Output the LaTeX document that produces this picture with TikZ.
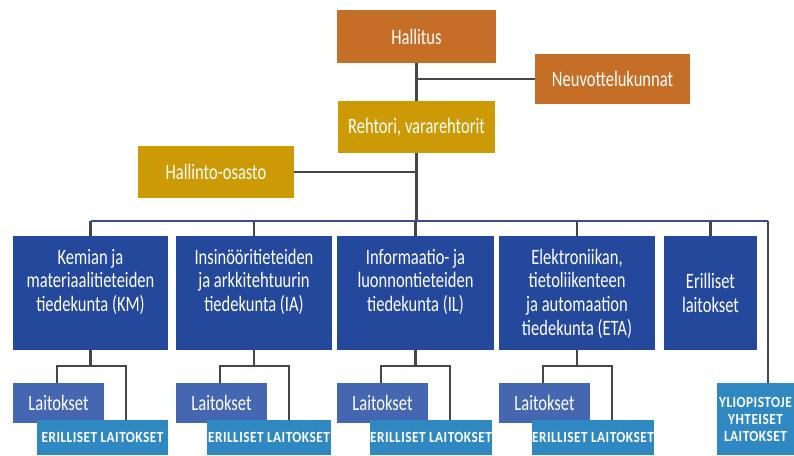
\documentclass[tikz,border=0pt]{standalone}
\usepackage{fontspec}
\setmainfont{Carlito}[FakeStretch=0.75]
\newfontfamily\capsfont{Carlito}[FakeStretch=0.86, LetterSpace=3]
\usetikzlibrary{calc}
\definecolor{orangebox}{HTML}{C46E27}
\definecolor{goldbox}{HTML}{CC9A04}
\definecolor{facblue}{HTML}{24489B}
\definecolor{depblue}{HTML}{4566B0}
\definecolor{sepblue}{HTML}{2F88C1}
\definecolor{linecol}{HTML}{45454D}
\definecolor{buscol}{HTML}{3D4E86}
\begin{document}
\begin{tikzpicture}[x=1pt,y=-1pt,
  box/.style={draw=none, inner sep=0pt, outer sep=0pt, text=white, align=center,
    font=\fontsize{22}{23.7}\selectfont},
  topbox/.style={box, fill=orangebox},
  goldb/.style={box, fill=goldbox},
  facbox/.style={box, fill=facblue, minimum height=114pt},
  factext/.style={box, fill=none, anchor=north},
  depbox/.style={box, fill=depblue, minimum width=91pt, minimum height=40pt},
  sepbox/.style={box, fill=sepblue, minimum height=35pt,
    font=\capsfont\bfseries\fontsize{15.5}{17}\selectfont},
  unibox/.style={box, fill=sepblue, minimum width=77pt, minimum height=72pt,
    font=\capsfont\bfseries\fontsize{15.5}{17}\selectfont},
  conn/.style={draw=linecol, line width=2.3pt},
  busline/.style={draw=buscol, line width=2.6pt}
]
\useasboundingbox (0,0) rectangle (794,455);
\fill[white] (0,0) rectangle (794,455);

% top levels
\node[topbox, minimum width=159pt, minimum height=53pt] (h) at (416.5,36.5) {Hallitus};
\node[topbox, minimum width=155pt, minimum height=50pt] (n) at (612.5,79) {Neuvottelukunnat};
\node[goldb, minimum width=157pt, minimum height=52pt] (r) at (416.5,127) {Rehtori, vararehtorit};
\node[goldb, minimum width=156pt, minimum height=52pt] (ho) at (216,172) {Hallinto-osasto};

\draw[conn] (h.south) -- (r.north);
\draw[conn] (h.south |- n.west) -- (n.west);
\draw[conn] (ho.east) -- (ho.east -| r.south);

% faculties
\node[facbox, minimum width=155pt] (km) at (90.5,293) {};
\node[facbox, minimum width=156pt] (ia) at (254,293) {};
\node[facbox, minimum width=157pt] (il) at (415.5,293) {};
\node[facbox, minimum width=156pt] (eta) at (577,293) {};
\node[facbox, minimum width=93pt] (er) at (710.5,293) {};

\node[factext] (kmt) at ($(km.north)+(0,13)$) {Kemian ja\\materiaalitieteiden\\tiedekunta (KM)};
\node[factext] (iat) at ($(ia.north)+(0,13)$) {Insinööritieteiden\\ja arkkitehtuurin\\tiedekunta (IA)};
\node[factext] (ilt) at ($(il.north)+(0,13)$) {Informaatio- ja\\luonnontieteiden\\tiedekunta (IL)};
\node[factext] (etat) at ($(eta.north)+(0,13)$) {Elektroniikan,\\tietoliikenteen\\ja automaation\\tiedekunta (ETA)};
\node[box] (ert) at (er.center) {Erilliset\\laitokset};

% university joint departments
\node[unibox] (yl) at (755.5,419) {YLIOPISTOJE\\YHTEISET\\LAITOKSET};

% bus
\coordinate (busL) at (km.north |- 0,221);
\coordinate (busR) at (768,221);
\draw[conn] (r.south) -- (r.south |- busL);
\foreach \f in {km,ia,il,eta,er} \draw[conn] (\f.north) -- (\f.north |- busL);
\draw[conn] (busR) -- (busR |- yl.north);
\draw[busline] (busL) -- (busR);

% departments
\foreach \f/\L/\EL in {km/13/37, ia/176/207, il/337/370, eta/499/532} {
  \pgfmathsetmacro\dx{\L+45.5}
  \pgfmathsetmacro\ex{(\EL+\L+155)/2}
  \pgfmathsetmacro\ew{\L+155-\EL}
  \pgfmathsetmacro\xa{\L+44}
  \pgfmathsetmacro\xb{\L+113}
  \node[depbox] (\f-L) at (\dx,403) {Laitokset};
  \node[sepbox, minimum width=\ew pt] (\f-E) at (\ex,437.5) {ERILLISET LAITOKSET};
  \draw[conn] (\f.south) -- (\f.south |- 0,366);
  \draw[conn] (\f-L.north -| \xa,0) -- (\xa,366) -- (\xb,366) -- (\f-E.north -| \xb,0);
}
\end{tikzpicture}
\end{document}
